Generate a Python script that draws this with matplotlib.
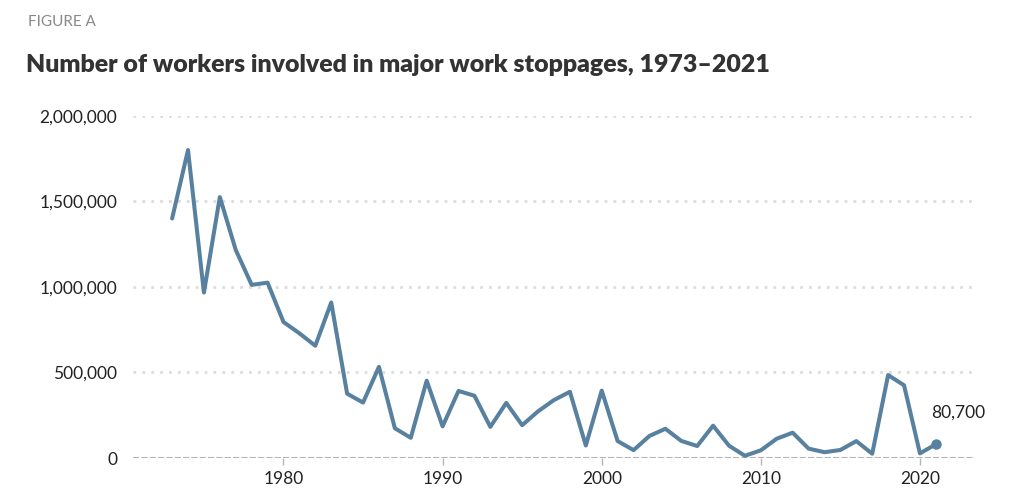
import matplotlib.pyplot as plt
from matplotlib.ticker import FuncFormatter

years = list(range(1973, 2022))
# workers involved in major work stoppages
workers = [1400000, 1800000, 967000, 1525000, 1216000, 1012000, 1025000,
           795000, 729000, 656000, 909000, 376000, 324000, 533000, 174000,
           118000, 452000, 185000, 392000, 364000, 182000, 322000, 192000,
           273000, 339000, 387000, 73000, 394000, 99000, 46000, 129000,
           171000, 100000, 70000, 189000, 72000, 13000, 45000, 113000,
           148000, 55000, 34000, 47000, 99000, 25000, 485000, 425000,
           27000, 80700]
y_ticks = [0, 500000, 1000000, 1500000, 2000000]
x_ticks = [1980, 1990, 2000, 2010, 2020]

plt.rcParams['font.family'] = ['Lato', 'DejaVu Sans']
line_col = '#58809f'

fig = plt.figure(figsize=(10.24, 5.01), dpi=100)
ax = fig.add_axes([0.130, 0.0858, 0.822, 0.683])

for v in y_ticks[1:]:
    ax.axhline(v, color='#dcdcdc', lw=2, ls=(0, (1, 2.2)), zorder=1)
ax.axhline(0, color='#b5b5b5', lw=1.5, ls=(0, (3, 1)), zorder=1)

ax.plot(years, workers, color=line_col, lw=2.9, solid_joinstyle='round',
        solid_capstyle='round', zorder=3)
ax.plot(years[-1], workers[-1], 'o', color=line_col, ms=6.5, zorder=4)
ax.text(years[-1] + 1.4, workers[-1] + 135000, '{:,}'.format(workers[-1]),
        ha='center', va='bottom', fontsize=12.5, color='#222222')

ax.set_xlim(1970.55, 2023.45)
ax.set_ylim(0, 2000000)
ax.set_yticks(y_ticks)
ax.yaxis.set_major_formatter(FuncFormatter(lambda v, p: '{:,}'.format(int(v))))
ax.set_xticks(x_ticks)
ax.tick_params(axis='y', length=0, pad=11.5, labelsize=12.5, labelcolor='#222222')
ax.tick_params(axis='x', length=5, width=1, color='#b5b5b5', pad=4,
               labelsize=12.5, labelcolor='#222222')
for s in ax.spines.values():
    s.set_visible(False)

fig.text(28 / 1024, 1 - 22 / 501, 'FIGURE A', fontsize=11, color='#8a8a8a',
         va='center', ha='left')
fig.text(26 / 1024, 1 - 65 / 501,
         'Number of workers involved in major work stoppages, 1973\u20132021',
         fontsize=17.9, fontweight='heavy', color='#333333', va='center', ha='left')

fig.savefig('out.png', dpi=100)
